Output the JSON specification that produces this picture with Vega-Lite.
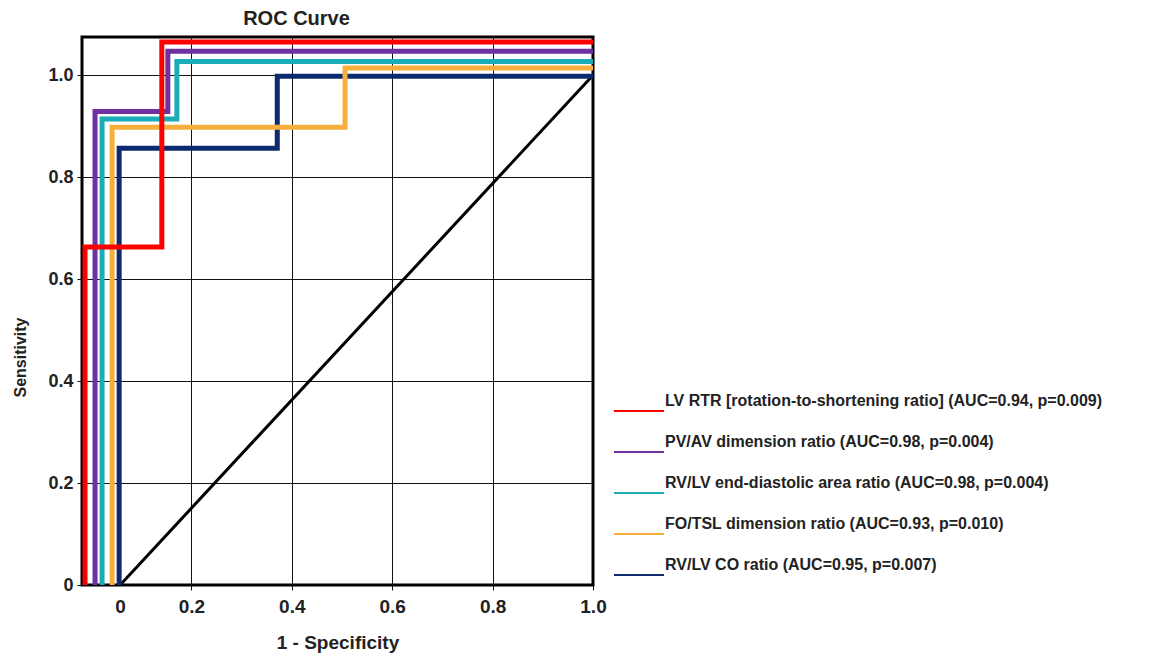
{
  "$schema": "https://vega.github.io/schema/vega-lite/v6.json",
  "width": 511,
  "height": 548,
  "autosize": {"type": "none"},
  "padding": {"left": 82, "top": 37, "right": 578, "bottom": 77},
  "background": "white",
  "title": {"text": "ROC Curve", "fontSize": 20, "font": "Liberation Sans", "fontWeight": "bold", "color": "#222222", "anchor": "middle", "dx": -41, "offset": 3},
  "config": {
    "font": "Liberation Sans",
    "view": {"stroke": "black", "strokeWidth": 3}
  },
  "datasets": {
    "diag": [
      {"x": 0.058, "y": 0},
      {"x": 1.0, "y": 1.0}
    ],
    "curves": [
      {"series": "RV/LV CO ratio (AUC=0.95, p=0.007)", "ord": 1, "x": 0.056, "y": 0},
      {"series": "RV/LV CO ratio (AUC=0.95, p=0.007)", "ord": 2, "x": 0.056, "y": 0.857},
      {"series": "RV/LV CO ratio (AUC=0.95, p=0.007)", "ord": 3, "x": 0.371, "y": 0.857},
      {"series": "RV/LV CO ratio (AUC=0.95, p=0.007)", "ord": 4, "x": 0.371, "y": 0.998},
      {"series": "RV/LV CO ratio (AUC=0.95, p=0.007)", "ord": 5, "x": 1.0, "y": 0.998},
      {"series": "RV/LV end-diastolic area ratio (AUC=0.98, p=0.004)", "ord": 1, "x": 0.022, "y": 0},
      {"series": "RV/LV end-diastolic area ratio (AUC=0.98, p=0.004)", "ord": 2, "x": 0.022, "y": 0.914},
      {"series": "RV/LV end-diastolic area ratio (AUC=0.98, p=0.004)", "ord": 3, "x": 0.171, "y": 0.914},
      {"series": "RV/LV end-diastolic area ratio (AUC=0.98, p=0.004)", "ord": 4, "x": 0.171, "y": 1.027},
      {"series": "RV/LV end-diastolic area ratio (AUC=0.98, p=0.004)", "ord": 5, "x": 1.0, "y": 1.027},
      {"series": "PV/AV dimension ratio (AUC=0.98, p=0.004)", "ord": 1, "x": 0.008, "y": 0},
      {"series": "PV/AV dimension ratio (AUC=0.98, p=0.004)", "ord": 2, "x": 0.008, "y": 0.929},
      {"series": "PV/AV dimension ratio (AUC=0.98, p=0.004)", "ord": 3, "x": 0.153, "y": 0.929},
      {"series": "PV/AV dimension ratio (AUC=0.98, p=0.004)", "ord": 4, "x": 0.153, "y": 1.047},
      {"series": "PV/AV dimension ratio (AUC=0.98, p=0.004)", "ord": 5, "x": 1.0, "y": 1.047},
      {"series": "FO/TSL dimension ratio (AUC=0.93, p=0.010)", "ord": 1, "x": 0.042, "y": 0},
      {"series": "FO/TSL dimension ratio (AUC=0.93, p=0.010)", "ord": 2, "x": 0.042, "y": 0.898},
      {"series": "FO/TSL dimension ratio (AUC=0.93, p=0.010)", "ord": 3, "x": 0.506, "y": 0.898},
      {"series": "FO/TSL dimension ratio (AUC=0.93, p=0.010)", "ord": 4, "x": 0.506, "y": 1.014},
      {"series": "FO/TSL dimension ratio (AUC=0.93, p=0.010)", "ord": 5, "x": 1.0, "y": 1.014},
      {"series": "\u00a0LV RTR [rotation-to-shortening ratio] (AUC=0.94, p=0.009)", "ord": 1, "x": -0.012, "y": 0},
      {"series": "\u00a0LV RTR [rotation-to-shortening ratio] (AUC=0.94, p=0.009)", "ord": 2, "x": -0.012, "y": 0.663},
      {"series": "\u00a0LV RTR [rotation-to-shortening ratio] (AUC=0.94, p=0.009)", "ord": 3, "x": 0.141, "y": 0.663},
      {"series": "\u00a0LV RTR [rotation-to-shortening ratio] (AUC=0.94, p=0.009)", "ord": 4, "x": 0.141, "y": 1.065},
      {"series": "\u00a0LV RTR [rotation-to-shortening ratio] (AUC=0.94, p=0.009)", "ord": 5, "x": 1.0, "y": 1.065}
    ]
  },
  "encoding": {
    "x": {
      "field": "x", "type": "quantitative",
      "scale": {"domain": [-0.018, 1.0], "nice": false, "zero": false},
      "axis": {
        "title": "1 - Specificity",
        "values": [0.058, 0.2, 0.4, 0.6, 0.8, 1.0],
        "labelExpr": "datum.value < 0.1 ? '0' : format(datum.value, '.1f')",
        "domain": false,
        "grid": true,
        "gridColor": "#111111",
        "gridWidth": 1,
        "gridOpacity": {"condition": {"test": "datum.value < 0.1 || datum.value > 0.99", "value": 0}, "value": 1},
        "ticks": true,
        "tickColor": "#111111",
        "tickSize": 5,
        "tickOpacity": {"condition": {"test": "datum.value < 0.1", "value": 0}, "value": 1},
        "labelFontSize": 19,
        "labelFontWeight": "bold",
        "labelColor": "#222222",
        "labelPadding": 7,
        "labelFlush": false,
        "labelOverlap": false,
        "titleFontSize": 19,
        "titleFontWeight": "bold",
        "titleColor": "#222222",
        "titlePadding": 17
      }
    },
    "y": {
      "field": "y", "type": "quantitative",
      "scale": {"domain": [0, 1.075], "nice": false, "zero": false},
      "axis": {
        "title": "Sensitivity",
        "values": [0, 0.2, 0.4, 0.6, 0.8, 1.0],
        "labelExpr": "datum.value == 0 ? '0' : format(datum.value, '.1f')",
        "domain": false,
        "grid": true,
        "gridColor": "#111111",
        "gridWidth": 1,
        "gridOpacity": {"condition": {"test": "datum.value < 0.01", "value": 0}, "value": 1},
        "tickColor": "#111111",
        "tickSize": 5,
        "labelFontSize": 18,
        "labelFontWeight": "bold",
        "labelColor": "#222222",
        "labelPadding": 4,
        "labelOverlap": false,
        "titleFontSize": 16,
        "titleFontWeight": "bold",
        "titleColor": "#222222",
        "titleX": -54,
        "titleY": 320
      }
    }
  },
  "layer": [
    {
      "data": {"name": "diag"},
      "mark": {"type": "line", "color": "black", "strokeWidth": 3},
      "encoding": {}
    },
    {
      "data": {"name": "curves"},
      "mark": {"type": "line", "strokeWidth": 5, "strokeJoin": "miter", "strokeCap": "butt"},
      "encoding": {
        "order": {"field": "ord", "type": "quantitative"},
        "color": {
          "field": "series", "type": "nominal",
          "scale": {
            "domain": [
              "\u00a0LV RTR [rotation-to-shortening ratio] (AUC=0.94, p=0.009)",
              "PV/AV dimension ratio (AUC=0.98, p=0.004)",
              "RV/LV end-diastolic area ratio (AUC=0.98, p=0.004)",
              "FO/TSL dimension ratio (AUC=0.93, p=0.010)",
              "RV/LV CO ratio (AUC=0.95, p=0.007)"
            ],
            "range": ["#FF0000", "#7030A0", "#1AACB8", "#F8AE3C", "#0D2A6E"]
          },
          "legend": {
            "orient": "none",
            "legendX": 535.5,
            "legendY": 342.5,
            "title": null,
            "symbolType": "M -1.22 0.49 L 1.22 0.49",
            "symbolSize": 1681,
            "symbolStrokeWidth": 2,
            "labelFontSize": 16,
            "labelFontWeight": "bold",
            "labelColor": "#222222",
            "labelLimit": 700,
            "labelOffset": 4.5,
            "rowPadding": 5,
            "padding": 0
          }
        }
      }
    }
  ]
}
